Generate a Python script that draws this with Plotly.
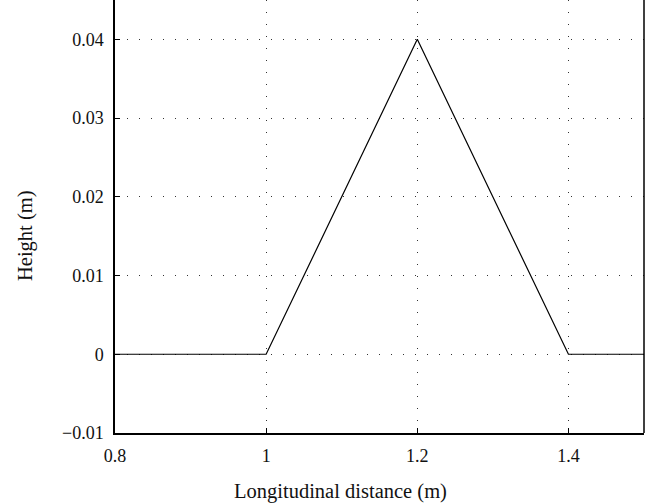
import plotly.graph_objects as go

x_vals = [0.8, 1.0, 1.2, 1.4, 1.5]
y_vals = [0.0, 0.0, 0.04, 0.0, 0.0]

x_ticks = [0.8, 1.0, 1.2, 1.4]
x_tick_labels = ["0.8", "1", "1.2", "1.4"]
y_ticks = [-0.01, 0, 0.01, 0.02, 0.03, 0.04]
y_tick_labels = ["\u22120.01", "0", "0.01", "0.02", "0.03", "0.04"]

FONT = "Liberation Serif, Times New Roman, serif"
font = dict(family=FONT, size=18, color="#111111")
label_font = dict(family=FONT, size=20.5, color="#111111")

fig = go.Figure()
fig.add_trace(go.Scatter(x=x_vals, y=y_vals, mode="lines",
                         line=dict(color="black", width=1.2), showlegend=False))

grid = dict(showgrid=True, gridcolor="#333333", griddash="1px,11px", gridwidth=1)

fig.update_layout(
    width=662, height=503,
    margin=dict(l=115, r=18, t=0, b=70),
    paper_bgcolor="white", plot_bgcolor="white",
    font=font,
    xaxis=dict(range=[0.8, 1.5], tickvals=x_ticks, ticktext=x_tick_labels,
               ticks="inside", ticklen=5, tickcolor="black", tickwidth=1.3,
               showline=True, linecolor="black", linewidth=1.5,
               zeroline=False, automargin=False, ticklabelstandoff=6,
               **grid),
    yaxis=dict(range=[-0.01, 0.045], tickvals=y_ticks, ticktext=y_tick_labels,
               ticks="inside", ticklen=5, tickcolor="black", tickwidth=1.3,
               showline=True, linecolor="black", linewidth=1.5,
               zeroline=False, automargin=False, ticklabelstandoff=6,
               **grid),
    annotations=[
        dict(text="Longitudinal distance (m)", xref="paper", yref="paper",
             x=0.427, y=0, yshift=-58, xanchor="center", yanchor="middle",
             showarrow=False, font=label_font),
        dict(text="Height (m)", xref="paper", yref="paper",
             x=0, xshift=-89, y=0.455, xanchor="center", yanchor="middle",
             textangle=-90, showarrow=False, font=label_font),
    ],
)
# right border line
fig.add_shape(type="line", xref="paper", yref="paper", x0=1, x1=1, y0=0, y1=1,
              line=dict(color="black", width=1.5))

fig.write_html("out.html", post_script="document.body.style.margin='0';",
               config={"displayModeBar": False})
